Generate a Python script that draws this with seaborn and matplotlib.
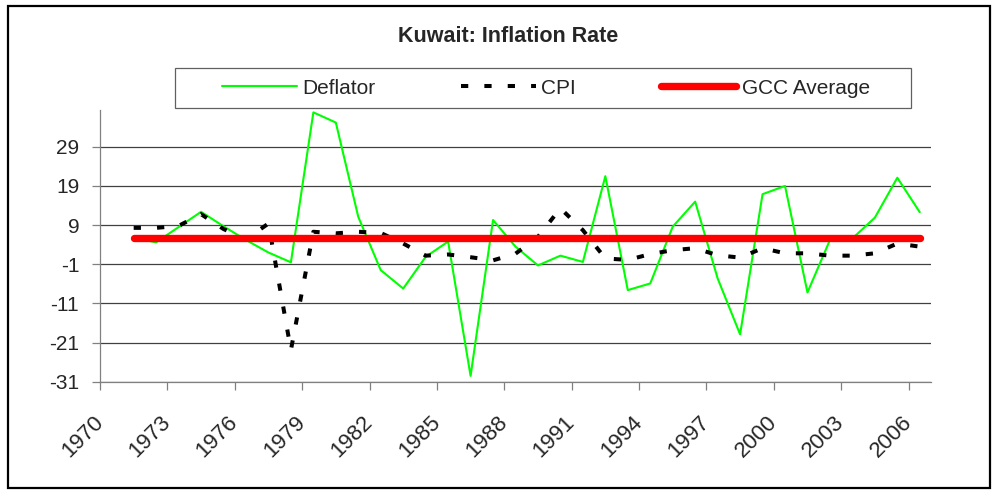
import matplotlib
matplotlib.use('Agg')
import matplotlib.pyplot as plt
import seaborn as sns
import pandas as pd
from matplotlib.patches import Rectangle

# data (1971-2006)
years = list(range(1971, 2007))
deflator = [5.7, 4.6, 8.5, 12.4, 8.7, 5.2, 2.0, -0.5, 37.8, 35.2,
            11.1, -2.5, -7.2, 0.9, 4.8, -29.5, 10.3, 3.5, -1.3, 1.2,
            -0.4, 21.5, -7.6, -5.9, 8.6, 15.0, -4.6, -18.9, 16.9, 19.0,
            -8.2, 5.2, 5.6, 10.9, 21.1, 12.3]
cpi = [8.3, 8.3, 8.8, 11.8, 8.0, 5.4, 9.4, -22.9, 7.3, 6.9,
       7.3, 7.0, 4.3, 1.2, 1.5, 0.8, 0.0, 1.7, 6.0, 13.3,
       7.7, 0.5, 0.1, 1.6, 2.6, 3.1, 1.3, 0.7, 3.1, 1.8,
       1.8, 1.2, 1.2, 1.8, 4.3, 3.5]
gcc_avg = [5.8] * len(years)
y_ticks = [-31, -21, -11, -1, 9, 19, 29]
x_labels = list(range(1970, 2007, 3))

df = pd.DataFrame({'year': years, 'Deflator': deflator, 'CPI': cpi, 'GCC Average': gcc_avg})

sns.set_style('white')
plt.rcParams['font.family'] = ['Liberation Sans', 'DejaVu Sans']

fig = plt.figure(figsize=(10, 4.94), dpi=100)
ax = fig.add_axes([0.100, 0.2273, 0.831, 0.550])

sns.lineplot(data=df, x='year', y='Deflator', ax=ax, color='#00ff00', lw=1.5)
sns.lineplot(data=df, x='year', y='CPI', ax=ax, color='black', lw=2.9,
             linestyle=(0, (1.8, 4.0)), dash_capstyle='butt')
sns.lineplot(data=df, x='year', y='GCC Average', ax=ax, color='#ff0000', lw=5.3,
             solid_capstyle='round')

ax.set_xlim(1969.5, 2006.5)
ax.set_ylim(-31, 38.4)
ax.set_yticks(y_ticks)
ax.set_yticklabels([str(v) for v in y_ticks], fontsize=15)
ax.grid(axis='y', color='#404040', lw=0.9)
ax.set_axisbelow(True)

# ticks between categories, label at each tick
ax.set_xticks([x - 0.5 for x in x_labels])
ax.set_xticklabels([str(v) for v in x_labels], fontsize=16, rotation=45,
                   ha='right', va='center', rotation_mode='anchor')
ax.tick_params(axis='x', direction='out', length=6, width=0.9, color='#808080', pad=21, bottom=True)
ax.tick_params(axis='y', direction='out', length=6, width=0.9, color='#808080', pad=9, left=True)
ax.set_xlabel('')
ax.set_ylabel('')

for s in ['top', 'right']:
    ax.spines[s].set_visible(False)
for s in ['left', 'bottom']:
    ax.spines[s].set_color('#808080')
    ax.spines[s].set_linewidth(0.9)

# legend box
fig.patches.append(Rectangle((175 / 1000, 1 - 108 / 494), 736 / 1000, 40 / 494,
                             transform=fig.transFigure, fill=True, facecolor='white',
                             edgecolor='#606060', lw=0.9, zorder=5))
leg = fig.legend(handles=ax.get_lines()[:3], labels=['Deflator', 'CPI', 'GCC Average'],
                 loc='center', bbox_to_anchor=(546 / 1000, 1 - 88 / 494), ncol=3,
                 frameon=False, fontsize=15, handlelength=3.6, handletextpad=0.25,
                 columnspacing=4.1)
leg.set_zorder(6)

fig.text(508 / 1000, 1 - 36 / 494, 'Kuwait: Inflation Rate', fontsize=15.5,
         fontweight='bold', ha='center', va='center')

# chart border
fig.patches.append(Rectangle((8 / 1000, 6 / 494), 982 / 1000, 482 / 494,
                             transform=fig.transFigure, fill=False,
                             edgecolor='black', lw=1.6))

plt.savefig('out.png', dpi=100)
